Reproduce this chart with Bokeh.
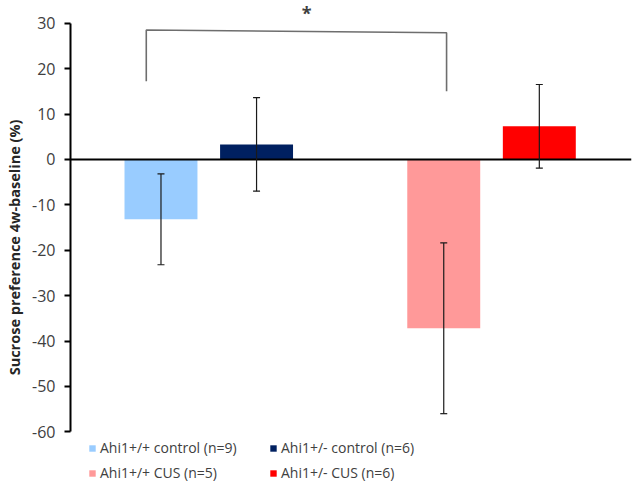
from bokeh.plotting import figure
from bokeh.models import (ColumnDataSource, Range1d, FixedTicker, Whisker, TeeHead,
                          Span, Legend, LegendItem, Label)
from bokeh.embed import file_html
from bokeh.resources import INLINE

# ---- data ----
groups = ["control", "CUS"]
bar_group = ["control", "control", "CUS", "CUS"]
genotype = ["+/+", "+/-", "+/+", "+/-"]
labels = ["Ahi1+/+ control (n=9)", "Ahi1+/- control (n=6)",
          "Ahi1+/+ CUS (n=5)", "Ahi1+/- CUS (n=6)"]
means = [-13.2, 3.3, -37.2, 7.3]
sem = [10.0, 10.3, 18.8, 9.2]
colors = ["#99CCFF", "#002060", "#FF9999", "#FF0000"]
y_ticks = [-60, -50, -40, -30, -20, -10, 0, 10, 20, 30]

# significance bracket (between Ahi1+/+ control and Ahi1+/+ CUS)
bracket_x = [-0.221, -0.221, 0.841, 0.841]
bracket_y = [17.2, 28.5, 27.9, 15.0]
star_x, star_y, star_text = 0.346, 35.0, "*"

# ---- layout helpers ----
offset = 0.169
bar_w = 0.258
xs = [groups.index(g) + (-offset if t == "+/+" else offset) for g, t in zip(bar_group, genotype)]
src = ColumnDataSource(dict(x=xs, top=means, color=colors, label=labels,
                            upper=[m + s for m, s in zip(means, sem)],
                            lower=[m - s for m, s in zip(means, sem)]))

FONT = "Open Sans"
p = figure(width=633, height=494, output_backend="svg", toolbar_location=None,
           x_range=Range1d(-0.489, 1.495), y_range=Range1d(-73.8, 35.0),
           x_axis_location=None, min_border_left=70, min_border_right=2,
           min_border_top=0, min_border_bottom=0)
p.outline_line_color = None
p.grid.visible = False
p.background_fill_color = "white"

r = p.vbar(x="x", top="top", bottom=0, width=bar_w, color="color", line_color=None, source=src)

p.add_layout(Span(location=0, dimension="width", line_color="black", line_width=2))

p.add_layout(Whisker(base="x", upper="upper", lower="lower", source=src, level="overlay",
                     line_color="#1a1a1a", line_width=1.2,
                     upper_head=TeeHead(size=7, line_color="#1a1a1a", line_width=1.2),
                     lower_head=TeeHead(size=7, line_color="#1a1a1a", line_width=1.2)))

p.line(bracket_x, bracket_y, line_color="#6e6e6e", line_width=1.6)
p.add_layout(Label(x=star_x, y=star_y, text=star_text, text_align="center",
                   text_baseline="top", text_font=FONT, text_font_size="18px",
                   text_font_style="bold", text_color="#404040"))

ax = p.yaxis[0]
ax.bounds = (-60, 30)
ax.ticker = FixedTicker(ticks=y_ticks)
ax.major_label_overrides = {t: str(t) for t in y_ticks}
ax.minor_tick_line_color = None
ax.major_tick_in = 0
ax.major_tick_out = 6
ax.major_tick_line_width = 2
ax.major_tick_line_color = "black"
ax.axis_line_width = 2
ax.axis_line_color = "black"
ax.major_label_text_font = FONT
ax.major_label_text_font_size = "16px"
ax.major_label_text_color = "#404040"
ax.major_label_standoff = 9
ax.axis_label = "Sucrose preference 4w-baseline (%)"
ax.axis_label_text_font = FONT
ax.axis_label_text_font_size = "14.5px"
ax.axis_label_text_font_style = "bold"
ax.axis_label_text_color = "#262626"
ax.axis_label_standoff = 5

items = [LegendItem(label=labels[i], renderers=[r], index=i) for i in range(len(labels))]
legend = Legend(items=items, location=(18, 9), orientation="horizontal", ncols=2,
                glyph_width=8, glyph_height=8, label_standoff=4, label_width=169,
                label_height=25, spacing=0, padding=0, margin=0,
                label_text_font=FONT, label_text_font_size="14px",
                label_text_color="#404040", border_line_color=None,
                background_fill_alpha=0)
p.add_layout(legend)

open("out.html", "w").write(file_html(p, INLINE))
